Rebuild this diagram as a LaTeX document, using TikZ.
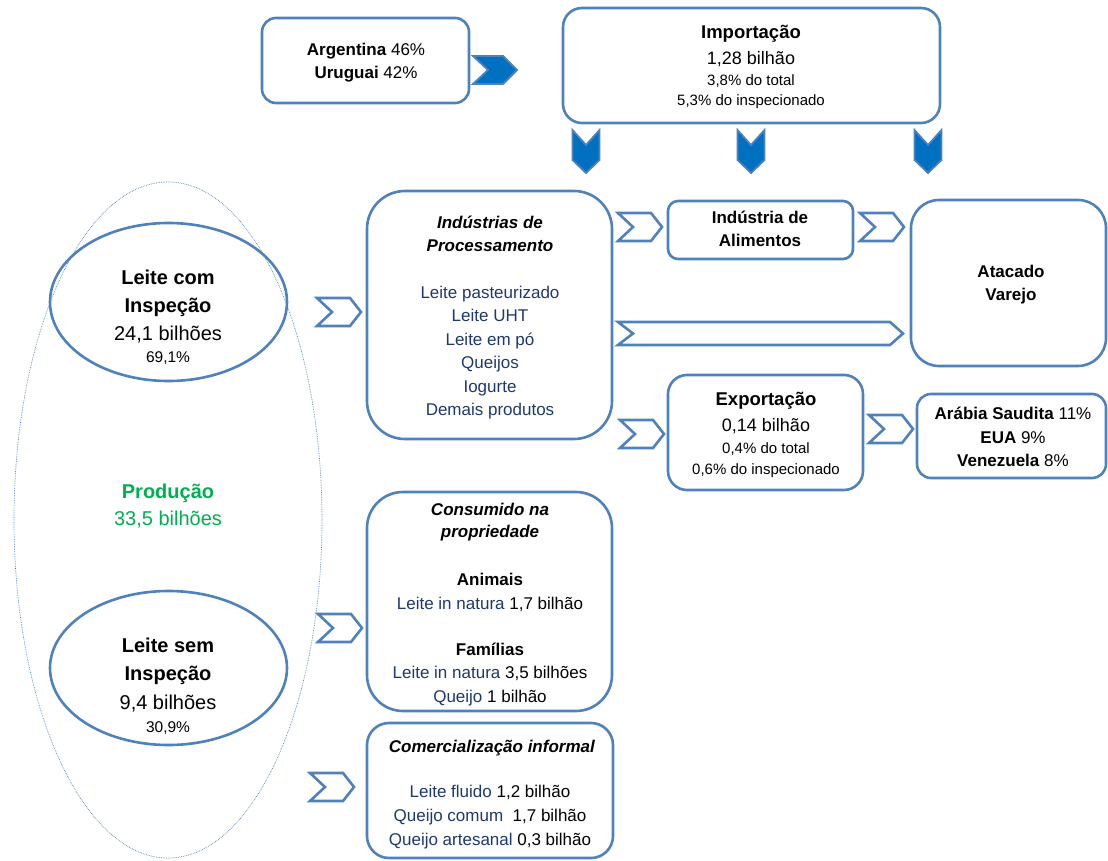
\documentclass[tikz,border=0pt]{standalone}
\usepackage{fontspec}
\setmainfont{Liberation Sans}
\usetikzlibrary{shapes.geometric}
\definecolor{bord}{RGB}{79,129,189}
\definecolor{navy}{RGB}{31,56,110}
\definecolor{grn}{RGB}{0,176,80}
\definecolor{fillb}{RGB}{0,112,192}
\newcommand\szstd{\fontsize{17}{20}\selectfont}
\newcommand\szbig{\fontsize{20}{24}\selectfont}
\newcommand\szmed{\fontsize{18}{22}\selectfont}
\newcommand\szhd{\fontsize{18.5}{22}\selectfont}
\newcommand\szsm{\fontsize{15}{18}\selectfont}
\newcommand\szpc{\fontsize{15.5}{18}\selectfont}
\newcommand\nv[1]{\textcolor{navy}{#1}}
\begin{document}
\begin{tikzpicture}[x=1pt,y=-1pt,
  box/.style={draw=bord, line width=2.6pt, rectangle, inner sep=0pt, fill=white, rounded corners=#1},
  oval/.style={draw=bord, line width=2.6pt, ellipse, inner sep=0pt},
  txt/.style={anchor=base, inner sep=0pt, align=center},
  chevline/.style={draw=bord, line width=2.6pt, line join=miter, fill=white},
  chevfill/.style={draw=bord, line width=1.8pt, fill=fillb, line join=miter},
  chevr/.pic={\path[chevline] (0,0) -- (33,0) -- (44,14) -- (33,28) -- (0,28) -- (15,14) -- cycle;},
  chevrf/.pic={\path[chevfill] (0,0) -- (30,0) -- (44,14) -- (30,28) -- (0,28) -- (15,14) -- cycle;},
  chevdf/.pic={\path[chevfill] (0,0) -- (13.5,15) -- (27,0) -- (27,30) -- (13.5,43) -- (0,30) -- cycle;}
]
\useasboundingbox (0,0) rectangle (1108,861);
\fill[white] (0,0) rectangle (1108,861);

% big dotted ellipse
\node[draw=bord, line width=0.7pt, densely dotted, ellipse, inner sep=0pt,
      minimum width=308pt, minimum height=676pt] (prod) at (168,520) {};

% ellipses
\node[oval, minimum width=237pt, minimum height=158pt] (com) at (168.5,302) {};
\node[oval, minimum width=237pt, minimum height=154pt] (sem) at (168.5,668) {};

% boxes
\node[box=14, minimum width=207pt, minimum height=85pt] (arg) at (365.5,60.5) {};
\node[box=19, minimum width=377pt, minimum height=115pt] (imp) at (751.5,65.5) {};
\node[box=38, minimum width=245pt, minimum height=248pt] (ind) at (489.5,315) {};
\node[box=10, minimum width=185pt, minimum height=58pt] (ali) at (760.5,230) {};
\node[box=28, minimum width=195pt, minimum height=166pt] (ata) at (1008.5,283) {};
\node[box=19, minimum width=195pt, minimum height=115pt] (exp) at (765.5,432.5) {};
\node[box=14, minimum width=189pt, minimum height=84pt] (ara) at (1011.5,436) {};
\node[box=36, minimum width=245pt, minimum height=219pt] (con) at (489.5,601.5) {};
\node[box=22, minimum width=246pt, minimum height=135pt] (cmi) at (490,790.5) {};

% chevrons
\pic (fa) at (473,56) {chevrf};
\pic (fd1) at (572.5,130) {chevdf};
\pic (fd2) at (737.5,130) {chevdf};
\pic (fd3) at (914.5,130) {chevdf};
\pic (c1) at (317,298) {chevr};
\pic (c2) at (618,213) {chevr};
\pic (c3) at (860,213) {chevr};
\pic (c5) at (620,420) {chevr};
\pic (c6) at (869,415) {chevr};
\pic (c7) at (318,614) {chevr};
\pic (c8) at (310,773) {chevr};
\path[chevline] (618,322) -- (890,322) -- (903,333.5) -- (890,345) -- (618,345) -- (633,333.5) -- cycle;

% Argentina
\node[txt] (arg1) at (366,56) {\szstd\textbf{Argentina} 46\%};
\node[txt] (arg2) at (366,79) {\szstd\textbf{Uruguai} 42\%};

% Importacao
\node[txt] (imp1) at (751,38.5) {\szhd\textbf{Importação}};
\node[txt] (imp2) at (751,64.5) {\szmed 1,28 bilhão};
\node[txt] (imp3) at (751,86) {\szsm 3,8\% do total};
\node[txt] (imp4) at (751,106) {\szsm 5,3\% do inspecionado};

% Leite com inspecao
\node[txt] (com1) at (168,284) {\szbig\textbf{Leite com}};
\node[txt] (com2) at (168,312) {\szbig\textbf{Inspeção}};
\node[txt] (com3) at (168,340) {\szbig 24,1 bilhões};
\node[txt] (com4) at (168,362) {\szpc 69,1\%};

% Producao
\node[txt, text=grn] (pr1) at (168,498) {\szbig\textbf{Produção}};
\node[txt, text=grn] (pr2) at (168,525) {\szbig 33,5 bilhões};

% Leite sem inspecao
\node[txt] (sem1) at (168,652) {\szbig\textbf{Leite sem}};
\node[txt] (sem2) at (168,680) {\szbig\textbf{Inspeção}};
\node[txt] (sem3) at (168,709) {\szbig 9,4 bilhões};
\node[txt] (sem4) at (168,732) {\szpc 30,9\%};

% Industrias de processamento
\node[txt] (ind1) at (490,228.5) {\szstd\textbf{\textit{Indústrias de}}};
\node[txt] (ind2) at (490,251.5) {\szstd\textbf{\textit{Processamento}}};
\node[txt] (ind3) at (490,298.5) {\szstd\nv{Leite pasteurizado}};
\node[txt] (ind4) at (490,321.5) {\szstd\nv{Leite UHT}};
\node[txt] (ind5) at (490,345) {\szstd\nv{Leite em pó}};
\node[txt] (ind6) at (490,368.5) {\szstd\nv{Queijos}};
\node[txt] (ind7) at (490,392) {\szstd\nv{Iogurte}};
\node[txt] (ind8) at (490,415.5) {\szstd\nv{Demais produtos}};

% Industria de alimentos
\node[txt] (ali1) at (760,224) {\szstd\textbf{Indústria de}};
\node[txt] (ali2) at (760,247) {\szstd\textbf{Alimentos}};

% Atacado
\node[txt] (ata1) at (1011,277) {\szstd\textbf{Atacado}};
\node[txt] (ata2) at (1011,300) {\szstd\textbf{Varejo}};

% Exportacao
\node[txt] (exp1) at (766,405) {\szhd\textbf{Exportação}};
\node[txt] (exp2) at (766,431.5) {\szmed 0,14 bilhão};
\node[txt] (exp3) at (766,453.5) {\szsm 0,4\% do total};
\node[txt] (exp4) at (766,474) {\szsm 0,6\% do inspecionado};

% Arabia
\node[txt] (ara1) at (1013,419) {\szstd\textbf{Arábia Saudita} 11\%};
\node[txt] (ara2) at (1013,443) {\szstd\textbf{EUA} 9\%};
\node[txt] (ara3) at (1013,466) {\szstd\textbf{Venezuela} 8\%};

% Consumido
\node[txt] (con1) at (490,515) {\szstd\textbf{\textit{Consumido na}}};
\node[txt] (con2) at (490,537) {\szstd\textbf{\textit{propriedade}}};
\node[txt] (con3) at (490,585) {\szstd\textbf{Animais}};
\node[txt] (con4) at (490,609) {\szstd\nv{Leite in natura} 1,7 bilhão};
\node[txt] (con5) at (490,655) {\szstd\textbf{Famílias}};
\node[txt] (con6) at (490,678.5) {\szstd\nv{Leite in natura} 3,5 bilhões};
\node[txt] (con7) at (490,702) {\szstd\nv{Queijo} 1 bilhão};

% Comercializacao
\node[txt] (cmi1) at (492,752) {\szstd\textbf{\textit{Comercialização informal}}};
\node[txt] (cmi2) at (490,797.5) {\szstd\nv{Leite fluido} 1,2 bilhão};
\node[txt] (cmi3) at (490,821) {\szstd\nv{Queijo comum}\ \ 1,7 bilhão};
\node[txt] (cmi4) at (490,845) {\szstd\nv{Queijo artesanal} 0,3 bilhão};
\end{tikzpicture}
\end{document}
